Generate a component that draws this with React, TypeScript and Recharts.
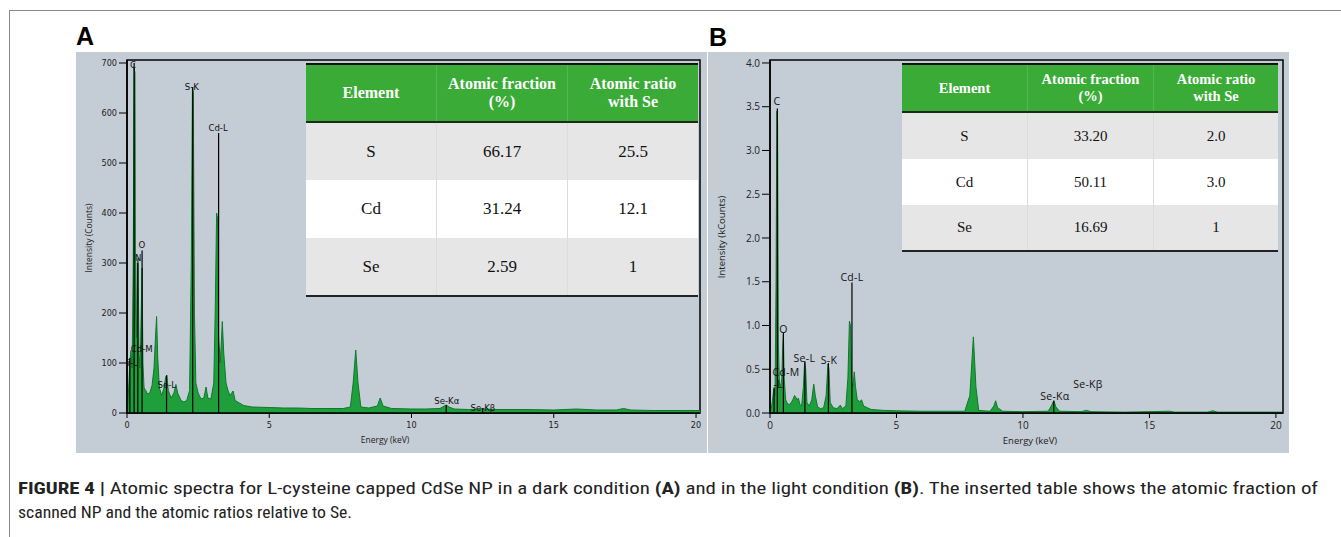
import React from 'react';
import { ComposedChart, Area, XAxis, YAxis, ReferenceLine, ReferenceArea, Scatter } from 'recharts';

// ---------- Panel A spectrum (counts) ----------
const energyA = [0, 0.05, 0.1, 0.14, 0.18, 0.22, 0.25, 0.28, 0.3, 0.33, 0.36, 0.39, 0.42, 0.46, 0.5, 0.53, 0.56, 0.6, 0.66, 0.72, 0.8, 0.88, 0.95, 1.0, 1.04, 1.08, 1.14, 1.22, 1.3, 1.36, 1.4, 1.45, 1.55, 1.65, 1.72, 1.78, 1.9, 2.0, 2.1, 2.2, 2.26, 2.3, 2.33, 2.37, 2.42, 2.5, 2.6, 2.7, 2.78, 2.84, 2.95, 3.05, 3.1, 3.15, 3.18, 3.22, 3.28, 3.35, 3.4, 3.48, 3.55, 3.62, 3.73, 3.8, 3.95, 4.1, 4.4, 5.0, 5.5, 6.0, 6.5, 7.0, 7.6, 7.85, 7.95, 8.04, 8.12, 8.22, 8.5, 8.8, 8.9, 9.0, 9.3, 10.0, 10.5, 11.0, 11.15, 11.22, 11.32, 11.5, 12.0, 12.5, 13.0, 14.0, 15.0, 15.8, 16.5, 17.2, 17.45, 17.7, 18.5, 19.5, 20.14];
const countsA = [0, 40, 100, 125, 90, 300, 690, 680, 200, 150, 300, 310, 120, 90, 200, 290, 100, 50, 45, 38, 40, 55, 90, 150, 193, 110, 50, 35, 50, 72, 76, 45, 30, 40, 57, 40, 25, 22, 25, 45, 300, 650, 640, 200, 60, 40, 28, 30, 52, 30, 28, 60, 200, 400, 390, 150, 100, 183, 120, 60, 45, 35, 44, 25, 20, 15, 12, 11, 10, 10, 9, 9, 9, 12, 60, 126, 60, 12, 10, 14, 30, 14, 9, 8, 8, 9, 14, 16, 12, 8, 7, 8, 7, 7, 6, 8, 6, 6, 9, 6, 5, 5, 5];

const markerEnergyA = [0.1, 0.25, 0.38, 0.53, 1.39, 2.31, 3.22, 11.22, 12.5];
const markerTopA = [110, 700, 300, 325, 75, 652, 560, 16, 10];
const labelTextA = ['C', 'O', 'N', 'Cd-M', 'i-L', 'Se-L', 'S-K', 'Cd-L', 'Se-Kα', 'Se-Kβ'];
const labelEnergyA = [0.21, 0.52, 0.39, 0.52, 0.2, 1.4, 2.28, 3.2, 11.24, 12.51];
const labelYA = [698, 338, 312, 130, 102, 58, 654, 572, 25, 12];

// ---------- Panel B spectrum (kCounts) ----------
const energyB = [0, 0.05, 0.1, 0.14, 0.17, 0.2, 0.24, 0.27, 0.3, 0.33, 0.37, 0.42, 0.47, 0.5, 0.53, 0.56, 0.62, 0.7, 0.8, 0.9, 0.97, 1.02, 1.07, 1.12, 1.18, 1.25, 1.32, 1.37, 1.41, 1.46, 1.55, 1.65, 1.73, 1.79, 1.88, 2.0, 2.12, 2.22, 2.29, 2.33, 2.38, 2.5, 2.65, 2.78, 2.86, 3.0, 3.08, 3.14, 3.18, 3.23, 3.28, 3.33, 3.38, 3.45, 3.55, 3.62, 3.7, 3.85, 4.0, 4.5, 5.0, 6.0, 7.0, 7.7, 7.9, 8.04, 8.14, 8.25, 8.7, 8.85, 8.92, 9.0, 9.2, 10.0, 11.0, 11.12, 11.22, 11.3, 11.45, 12.3, 12.5, 12.7, 14.0, 15.8, 16.0, 17.3, 17.5, 17.7, 19.0, 20.28];
const countsB = [0, 0.05, 0.15, 0.25, 0.28, 0.2, 1.5, 3.45, 3.3, 0.8, 0.35, 0.3, 0.4, 0.75, 0.9, 0.4, 0.15, 0.1, 0.1, 0.15, 0.2, 0.18, 0.15, 0.17, 0.1, 0.08, 0.3, 0.58, 0.5, 0.12, 0.08, 0.15, 0.33, 0.2, 0.07, 0.05, 0.06, 0.2, 0.56, 0.5, 0.12, 0.06, 0.05, 0.09, 0.05, 0.08, 0.4, 1.05, 1.0, 0.35, 0.3, 0.47, 0.3, 0.15, 0.13, 0.15, 0.08, 0.06, 0.04, 0.03, 0.025, 0.02, 0.02, 0.02, 0.2, 0.87, 0.3, 0.03, 0.02, 0.08, 0.14, 0.06, 0.02, 0.015, 0.02, 0.08, 0.14, 0.07, 0.02, 0.015, 0.03, 0.015, 0.01, 0.02, 0.01, 0.01, 0.025, 0.01, 0.01, 0.01];

const markerEnergyB = [0.16, 0.29, 0.53, 1.38, 2.31, 3.24, 11.22];
const markerTopB = [0.29, 3.48, 0.92, 0.59, 0.57, 1.49, 0.14];
const labelTextB = ['C', 'O', 'Cd-M', '-L', 'Se-L', 'S-K', 'Cd-L', 'Se-Kα', 'Se-Kβ'];
const labelEnergyB = [0.28, 0.53, 0.63, 0.33, 1.36, 2.33, 3.24, 11.26, 12.57];
const labelYB = [3.56, 0.96, 0.47, 0.33, 0.63, 0.61, 1.55, 0.19, 0.33];

// ---------- Axes ----------
const xTicks = [0, 5, 10, 15, 20];
const yTicksA = [0, 100, 200, 300, 400, 500, 600, 700];
const yTicksB = [0, 0.5, 1.0, 1.5, 2.0, 2.5, 3.0, 3.5, 4.0];

// ---------- Tables ----------
const tableHeaderLines = [['Element'], ['Atomic fraction', '(%)'], ['Atomic ratio', 'with Se']];
const tableElements = ['S', 'Cd', 'Se'];
const fractionA = ['66.17', '31.24', '2.59'];
const ratioA = ['25.5', '12.1', '1'];
const fractionB = ['33.20', '50.11', '16.69'];
const ratioB = ['2.0', '3.0', '1'];

const PANEL_BG = '#c4ccd5';
const GREEN_FILL = '#1f9f3b';
const GREEN_STROKE = '#0c7a2c';
const HEADER_GREEN = '#3aab36';

const makeLabelShape = (fontSize: number, family: string, spacing: number) => (props: any) => {
  const { cx, cy, payload } = props;
  return (
    <text x={cx} y={cy} textAnchor="middle" dominantBaseline="central" fontSize={fontSize} fontFamily={family} letterSpacing={spacing} fill="#111">
      {payload.t}
    </text>
  );
};

type SpecProps = {
  width: number;
  height: number;
  yWidth: number;
  right: number;
  xMax: number;
  yMax: number;
  energies: number[];
  counts: number[];
  yTicks: number[];
  yFmt: (v: number) => string;
  mE: number[];
  mTop: number[];
  lT: string[];
  lE: number[];
  lY: number[];
  tickFont: string;
  tickSize: number;
  labelFont: number;
  labelFamily: string;
  labelSpacing: number;
};

function Spectrum(p: SpecProps) {
  const data = p.energies.map((e, i) => ({ e, v: p.counts[i] }));
  const labels = p.lT.map((t, i) => ({ e: p.lE[i], v: p.lY[i], t }));
  const tickStyle = { fill: '#222', fontSize: p.tickSize, fontFamily: p.tickFont };
  return (
    <ComposedChart width={p.width} height={p.height} data={data} margin={{ top: 8, right: p.right, left: 0, bottom: 0 }}>
      <XAxis
        type="number"
        dataKey="e"
        domain={[0, p.xMax]}
        ticks={xTicks}
        allowDataOverflow
        height={40}
        tickSize={5}
        tickMargin={4}
        tick={tickStyle}
        axisLine={{ stroke: '#000', strokeWidth: 1.5 }}
        tickLine={{ stroke: '#000', strokeWidth: 1 }}
      />
      <YAxis
        type="number"
        domain={[0, p.yMax]}
        ticks={p.yTicks}
        allowDataOverflow
        width={p.yWidth}
        tickSize={8}
        tickMargin={2}
        tickFormatter={p.yFmt}
        tick={tickStyle}
        axisLine={{ stroke: '#000', strokeWidth: 1.5 }}
        tickLine={{ stroke: '#000', strokeWidth: 1 }}
      />
      <ReferenceArea x1={0} x2={p.xMax} y1={0} y2={p.yMax} fill="none" stroke="#000" strokeWidth={1.5} ifOverflow="visible" />
      <Area type="linear" dataKey="v" fill={GREEN_FILL} fillOpacity={1} stroke={GREEN_STROKE} strokeWidth={1} isAnimationActive={false} dot={false} activeDot={false} />
      {p.mE.map((e, i) => (
        <ReferenceLine key={'m' + i} segment={[{ x: e, y: 0 }, { x: e, y: p.mTop[i] }]} stroke="#000" strokeWidth={1.2} ifOverflow="visible" />
      ))}
      <Scatter data={labels} dataKey="v" fill="#111" isAnimationActive={false} shape={makeLabelShape(p.labelFont, p.labelFamily, p.labelSpacing)} />
    </ComposedChart>
  );
}

type TableProps = {
  left: number;
  top: number;
  colWidths: number[];
  rowHeights: number[];
  headFont: number;
  bodyFont: number;
  fractions: string[];
  ratios: string[];
};

function InsetTable(t: TableProps) {
  const width = t.colWidths.reduce((a, b) => a + b, 0);
  const rows = tableElements.map((el, i) => [el, t.fractions[i], t.ratios[i]]);
  const rowBg = ['#e6e6e6', '#ffffff', '#e6e6e6'];
  const serif = '"Liberation Serif", "Times New Roman", serif';
  return (
    <div style={{ position: 'absolute', left: t.left, top: t.top, width, borderTop: '2px solid #111', borderBottom: '2px solid #222', boxSizing: 'content-box' }}>
      <div style={{ display: 'flex', height: t.rowHeights[0], background: HEADER_GREEN, borderBottom: '2px solid #1c2a1c' }}>
        {tableHeaderLines.map((lines, j) => (
          <div key={j} style={{ width: t.colWidths[j], display: 'flex', flexDirection: 'column', alignItems: 'center', justifyContent: 'center', textAlign: 'center', color: '#fff', fontWeight: 'bold', fontFamily: serif, fontSize: t.headFont, lineHeight: 1.15, borderLeft: j > 0 ? '1px solid #52b84e' : 'none', boxSizing: 'border-box', whiteSpace: 'nowrap' }}>
            {lines.map((l, k) => (
              <div key={k}>{l}</div>
            ))}
          </div>
        ))}
      </div>
      {rows.map((r, i) => (
        <div key={i} style={{ display: 'flex', height: t.rowHeights[i + 1], background: rowBg[i] }}>
          {r.map((c, j) => (
            <div key={j} style={{ width: t.colWidths[j], display: 'flex', alignItems: 'center', justifyContent: 'center', color: '#111', fontFamily: serif, fontSize: t.bodyFont, borderLeft: j > 0 ? '1px solid #dcdcdc' : 'none', boxSizing: 'border-box' }}>
              {c}
            </div>
          ))}
        </div>
      ))}
    </div>
  );
}

const sans = '"Open Sans", "Noto Sans", sans-serif';

function AxisTitle({ text, cx, cy, rotate, size }: { text: string; cx: number; cy: number; rotate: boolean; size: number }) {
  return (
    <div style={{ position: 'absolute', left: cx - 100, top: cy - 8, width: 200, height: 16, lineHeight: '16px', textAlign: 'center', fontFamily: sans, fontSize: size, color: '#222', transform: rotate ? 'rotate(-90deg)' : 'none', whiteSpace: 'nowrap' }}>
      {text}
    </div>
  );
}

export default function App() {
  const capFont = '"Liberation Sans Narrow", "Roboto Condensed", "Liberation Sans", Arial, sans-serif';
  return (
    <div style={{ position: 'absolute', left: 0, top: 0, width: 1341, height: 537, background: '#fff', overflow: 'hidden' }}>
      <div style={{ position: 'absolute', left: 9, top: 10, width: 1340, height: 540, borderTop: '1px solid #8a8a8a', borderLeft: '1px solid #8a8a8a' }} />

      <div style={{ position: 'absolute', left: 76, top: 22, fontFamily: '"Liberation Sans", Arial, sans-serif', fontWeight: 'bold', fontSize: 25, color: '#000' }}>A</div>
      <div style={{ position: 'absolute', left: 709, top: 23, fontFamily: '"Liberation Sans", Arial, sans-serif', fontWeight: 'bold', fontSize: 25, color: '#000' }}>B</div>

      <div style={{ position: 'absolute', left: 76, top: 52, width: 631, height: 401, background: PANEL_BG }}>
        <Spectrum width={631} height={401} yWidth={51} right={7} xMax={20.14} yMax={706} energies={energyA} counts={countsA} yTicks={yTicksA} yFmt={(v) => String(v)} mE={markerEnergyA} mTop={markerTopA} lT={labelTextA} lE={labelEnergyA} lY={labelYA} tickFont='"DejaVu Sans Condensed", "DejaVu Sans", sans-serif' tickSize={9} labelFont={9.5} labelFamily='"DejaVu Sans Condensed", "DejaVu Sans", sans-serif' labelSpacing={0} />
      </div>
      <div style={{ position: 'absolute', left: 708, top: 52, width: 581, height: 401, background: PANEL_BG }}>
        <Spectrum width={581} height={401} yWidth={62} right={6} xMax={20.28} yMax={4.034} energies={energyB} counts={countsB} yTicks={yTicksB} yFmt={(v) => v.toFixed(1)} mE={markerEnergyB} mTop={markerTopB} lT={labelTextB} lE={labelEnergyB} lY={labelYB} tickFont={sans} tickSize={10} labelFont={10.5} labelFamily={sans} labelSpacing={0.3} />
      </div>

      <AxisTitle text="Intensity (Counts)" cx={89} cy={238} rotate size={8.5} />
      <AxisTitle text="Intensity (kCounts)" cx={722} cy={237} rotate size={9.5} />
      <AxisTitle text="Energy (keV)" cx={385} cy={440} rotate={false} size={8.5} />
      <AxisTitle text="Energy (keV)" cx={1030} cy={441} rotate={false} size={9.5} />

      <InsetTable left={306} top={63} colWidths={[130, 131, 131]} rowHeights={[56, 57, 58, 57]} headFont={16} bodyFont={17} fractions={fractionA} ratios={ratioA} />
      <InsetTable left={902} top={63} colWidths={[125, 126, 125]} rowHeights={[46, 46, 46, 45]} headFont={14.5} bodyFont={15} fractions={fractionB} ratios={ratioB} />

      <svg style={{ position: 'absolute', left: 0, top: 470 }} width={1341} height={67}>
        <text x={18} y={24} fontFamily={capFont} fontSize={16} fill="#222" textLength={1300} lengthAdjust="spacingAndGlyphs">
          <tspan fontWeight="bold">FIGURE 4 |</tspan>
          <tspan> Atomic spectra for L-cysteine capped CdSe NP in a dark condition </tspan>
          <tspan fontWeight="bold">(A)</tspan>
          <tspan> and in the light condition </tspan>
          <tspan fontWeight="bold">(B)</tspan>
          <tspan>. The inserted table shows the atomic fraction of</tspan>
        </text>
        <text x={18} y={48} fontFamily={capFont} fontSize={16} fill="#222" textLength={334} lengthAdjust="spacingAndGlyphs">
          scanned NP and the atomic ratios relative to Se.
        </text>
      </svg>
    </div>
  );
}
